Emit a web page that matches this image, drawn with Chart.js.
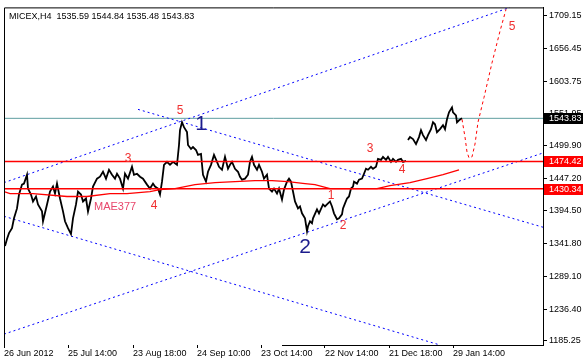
<!DOCTYPE html>
<html>
<head>
<meta charset="utf-8">
<script src="https://cdn.jsdelivr.net/npm/chart.js@4.4.1/dist/chart.umd.min.js"></script>
<style>
html,body{margin:0;padding:0;background:#fff;}
</style>
</head>
<body>
<canvas id="chart" width="583" height="359"></canvas>
<script>
// MICEX H4 closes, x = bar number from the left edge of the window
var priceBars = [1,3,5,8,10,13,15,18,20,23,24,27,29,32,34,38,39,43,46,49,51,53,56,59,61,64,67,69,72,74,77,79,82,84,87,89,93,96,99,102,105,108,111,113,116,119,121,124,128,130,133,136,139,143,146,149,151,154,156,158,160,163,166,169,173,175,176,178,180,183,184,187,189,192,194,197,199,202,204,207,210,213,215,218,221,224,226,228,231,234,236,238,241,244,246,248,250,253,255,258,260,263,265,268,270,273,275,278,280,283,285,287,289,291,294,296,298,301,303,304,306,308,309,313,315,319,321,323,326,328,330,333,335,338,339,341,343,345,347,349,350,353,355,358,360,362,364,367,369,372,374,377,379,382,384,387,389,392,394,397,399,402,403,404,406,409,412,415,417,419,422,424,427,429,431,433,436,439,441,443,445,448,449,452,453,455,458];
var priceVals = [1338.0,1349.2,1358.8,1366.7,1382.7,1398.6,1421.0,1437.0,1438.6,1452.9,1430.6,1421.0,1409.8,1417.8,1405.0,1393.8,1377.9,1405.0,1425.8,1433.8,1422.6,1438.6,1414.6,1393.8,1377.9,1366.7,1357.2,1382.7,1405.0,1425.8,1421.0,1409.8,1414.6,1393.8,1414.6,1433.8,1446.6,1449.7,1457.7,1446.6,1460.9,1452.9,1446.6,1454.5,1446.6,1430.6,1454.5,1446.6,1465.7,1452.9,1454.5,1449.7,1446.6,1437.0,1430.6,1438.6,1433.8,1430.6,1421.0,1441.8,1468.9,1473.7,1468.9,1473.7,1468.9,1500.8,1524.8,1537.5,1529.6,1521.6,1500.8,1494.4,1497.6,1492.8,1484.9,1486.4,1452.9,1441.8,1457.7,1468.9,1484.9,1473.7,1465.7,1460.9,1481.7,1462.5,1468.9,1473.7,1462.5,1457.7,1449.7,1445.0,1446.6,1452.9,1473.7,1481.7,1468.9,1460.9,1468.9,1457.7,1446.6,1452.9,1430.6,1425.8,1430.6,1422.6,1430.6,1413.0,1429.0,1441.8,1446.6,1441.8,1425.8,1409.8,1398.6,1401.8,1390.7,1382.7,1361.9,1369.9,1377.9,1374.7,1382.7,1397.0,1390.7,1405.0,1401.8,1405.0,1409.8,1401.8,1390.7,1381.1,1382.7,1389.1,1398.6,1406.6,1414.6,1417.8,1430.6,1433.8,1441.8,1438.6,1445.0,1446.6,1454.5,1462.5,1460.9,1465.7,1462.5,1465.7,1478.5,1476.9,1481.7,1476.9,1481.7,1473.7,1478.5,1473.7,1476.9,1478.5,1473.7,1475.3,null,1508.8,1513.6,1510.4,1502.4,1513.6,1524.8,1516.8,1508.8,1516.8,1526.4,1537.5,1534.3,1521.6,1526.4,1532.8,1526.4,1542.3,1553.5,1561.5,1553.5,1548.7,1537.5,1540.7,1543.8];

// MAE377 moving average
var maBars = [0,6,29,63,83,106,123,146,156,171,191,211,231,251,268,284,301,311,326,349,373,386,406,423,439,455];
var maVals = [1425.8,1422.6,1422.6,1417.8,1417.8,1422.6,1422.6,1425.8,1429.0,1430.6,1437.0,1440.2,1441.8,1443.4,1443.4,1441.8,1438.6,1437.0,1430.6,1430.6,1430.6,1435.4,1440.2,1446.6,1452.9,1460.9];

// forecast path (red dashed)
var fcBars = [458,461,463,465,468,471,474,480,488,496,502];
var fcVals = [1542.3,1513.6,1489.6,1480.1,1481.7,1502.4,1537.5,1577.5,1633.3,1684.4,1719.5];

// channel lines: [bar1, price1, bar2, price2]
var trendLines = [
  [0, 1440.2, 506, 1722.7],
  [0, 1195.9, 539, 1488.0],
  [134, 1558.3, 539, 1368.3],
  [0, 1385.9, 436, 1178.4]
];

// horizontal levels
var levels = [1543.83, 1474.42, 1430.34];
var levelColors = ['#5f9ea0', '#ff0000', '#ff0000'];
var levelBoxColors = ['#000000', '#ff0000', '#ff0000'];

// wave marks
var waveText = ['5', '3', '4', '1', '2', '3', '4', '5'];
var waveBars = [176, 124, 150, 327, 339, 366, 398, 508];
var waveVals = [1556.7, 1478.5, 1403.4, 1419.4, 1371.5, 1494.4, 1460.9, 1690.8];
var bigText = ['1', '2'];
var bigBars = [197, 301];
var bigVals = [1534.3, 1336.4];

var yTicks = [1709.15, 1656.45, 1603.75, 1551.95, 1499.90, 1447.20, 1394.50, 1341.80, 1289.10, 1236.40, 1185.25];
var xTickBars = [0, 64, 129, 193, 257, 321, 385, 449];
var xTickLabels = ['26 Jun 2012', '25 Jul 14:00', '23 Aug 18:00', '24 Sep 10:00', '23 Oct 14:00', '22 Nov 14:00', '21 Dec 18:00', '29 Jan 14:00'];

var titleText = 'MICEX,H4  1535.59 1544.84 1535.48 1543.83';
var FONT = '"Liberation Sans", Arial, sans-serif';

function pts(xs, ys) {
  return xs.map(function(x, i) { return {x: x, y: ys[i]}; });
}

var datasets = [];
levels.forEach(function(v, i) {
  datasets.push({
    data: [{x: 0, y: v}, {x: 539, y: v}],
    borderColor: levelColors[i],
    borderWidth: i === 0 ? 1 : 1.5,
    order: i === 0 ? 4 : 0
  });
});
datasets.push({data: pts(maBars, maVals), borderColor: '#ff0000', borderWidth: 1.3, order: 1});
datasets.push({data: pts(fcBars, fcVals), borderColor: '#ff0000', borderWidth: 1, borderDash: [3, 3], order: 1});
datasets.push({data: pts(priceBars, priceVals), borderColor: '#000000', borderWidth: 1.8, spanGaps: false, order: 2});
trendLines.forEach(function(t) {
  datasets.push({
    data: [{x: t[0], y: t[1]}, {x: t[2], y: t[3]}],
    borderColor: '#0000ff', borderWidth: 1, borderDash: [2, 3], order: 3
  });
});

var extras = {
  id: 'extras',
  afterDatasetsDraw: function(chart) {
    var ctx = chart.ctx, xs = chart.scales.x, ys = chart.scales.y;
    ctx.save();
    ctx.textAlign = 'center';
    ctx.textBaseline = 'middle';
    ctx.font = '12px ' + FONT;
    ctx.fillStyle = '#f03030';
    waveText.forEach(function(t, i) {
      ctx.fillText(t, xs.getPixelForValue(waveBars[i]), ys.getPixelForValue(waveVals[i]));
    });
    ctx.font = '21px ' + FONT;
    ctx.fillStyle = '#1c1c8c';
    bigText.forEach(function(t, i) {
      ctx.fillText(t, xs.getPixelForValue(bigBars[i]), ys.getPixelForValue(bigVals[i]));
    });
    ctx.font = '11px ' + FONT;
    ctx.fillStyle = '#e8476c';
    ctx.textAlign = 'left';
    ctx.fillText('MAE377', xs.getPixelForValue(90), ys.getPixelForValue(1400.3));
    ctx.restore();
  },
  afterDraw: function(chart) {
    var ctx = chart.ctx, a = chart.chartArea, ys = chart.scales.y, xs = chart.scales.x;
    ctx.save();
    ctx.strokeStyle = '#000';
    ctx.lineWidth = 1;
    ctx.beginPath();
    ctx.moveTo(a.left + 0.5, a.bottom);
    ctx.lineTo(a.left + 0.5, a.top + 0.5);
    ctx.lineTo(a.right, a.top + 0.5);
    ctx.moveTo(xs.getPixelForValue(278), a.bottom + 0.5);
    ctx.lineTo(a.right, a.bottom + 0.5);
    ctx.stroke();
    ctx.font = '9px ' + FONT;
    ctx.fillStyle = '#000';
    ctx.textBaseline = 'middle';
    ctx.textAlign = 'left';
    ctx.fillText(titleText, a.left + 5, a.top + 9);
    levels.forEach(function(v, i) {
      var y = Math.round(ys.getPixelForValue(v));
      ctx.fillStyle = levelBoxColors[i];
      ctx.fillRect(a.right + 1, y - 5, chart.width - a.right - 1, 11);
      ctx.fillStyle = '#fff';
      ctx.fillText(v.toFixed(2), a.right + 6, y + 0.5);
    });
    ctx.restore();
  }
};

Chart.defaults.font.family = FONT;
Chart.defaults.font.size = 9;
Chart.defaults.color = '#000';

new Chart(document.getElementById('chart'), {
  type: 'line',
  data: {datasets: datasets},
  plugins: [extras],
  options: {
    responsive: false,
    animation: false,
    events: [],
    layout: {padding: {left: 4, top: 4, right: 0, bottom: 0}},
    elements: {point: {radius: 0}, line: {tension: 0}},
    plugins: {legend: {display: false}, tooltip: {enabled: false}},
    scales: {
      x: {
        type: 'linear', min: 0, max: 539,
        afterBuildTicks: function(axis) { axis.ticks = xTickBars.map(function(v) { return {value: v}; }); },
        afterFit: function(axis) { axis.height = 14; },
        grid: {drawOnChartArea: false, tickLength: 3, color: '#000'},
        border: {display: false},
        ticks: {
          autoSkip: false, maxRotation: 0, align: 'start', padding: 0,
          callback: function(v, i) { return xTickLabels[i]; }
        }
      },
      y: {
        position: 'right', min: 1178.4, max: 1722.7,
        afterBuildTicks: function(axis) { axis.ticks = yTicks.map(function(v) { return {value: v}; }); },
        afterFit: function(axis) { axis.width = 40; },
        grid: {drawOnChartArea: false, tickLength: 4, color: '#000'},
        border: {display: true, color: '#000'},
        ticks: {
          autoSkip: false, padding: 2,
          callback: function(v) { return v.toFixed(2); }
        }
      }
    }
  }
});
</script>
</body>
</html>
